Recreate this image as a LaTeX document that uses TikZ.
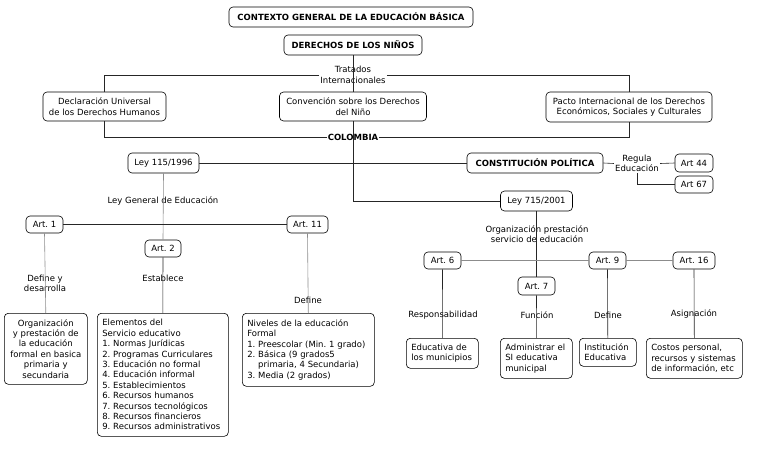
\documentclass[tikz,border=0pt]{standalone}
\usepackage{fontspec}
\setmainfont{DejaVu Sans}
\begin{document}
\frenchspacing
\begin{tikzpicture}[x=1pt,y=-1pt,
  box/.style={draw=black, rounded corners=4pt, line width=0.6pt, inner sep=2pt, font=\fontsize{8.5}{10.4}\selectfont, align=center},
  bbox/.style={box, font=\fontsize{8.5}{10.4}\selectfont\bfseries},
  tbox/.style={box, anchor=north west, inner xsep=5pt, align=left},
  lbl/.style={inner sep=1pt, font=\fontsize{8.5}{10.4}\selectfont, align=center},
  blbl/.style={lbl, font=\fontsize{8.5}{10.4}\selectfont\bfseries},
  ln/.style={draw=black!85, line width=0.6pt},
  gln/.style={draw=black!45, line width=0.6pt}]
\useasboundingbox (0,0) rectangle (767,460);
% top
\node[bbox, minimum width=244pt, minimum height=20pt] (title) at (351,17) {CONTEXTO GENERAL DE LA EDUCACIÓN BÁSICA};
\node[bbox, minimum width=138pt, minimum height=20pt] (der) at (353,45) {DERECHOS DE LOS NIÑOS};
\node[box, minimum width=123pt, minimum height=29pt] (decl) at (104.5,106.5) {Declaración Universal\\de los Derechos Humanos};
\node[box, minimum width=147pt, minimum height=29pt] (conv) at (353,106.5) {Convención sobre los Derechos\\del Niño};
\node[box, minimum width=166pt, minimum height=30pt] (pacto) at (629,107) {Pacto Internacional de los Derechos\\Económicos, Sociales y Culturales};
\node[lbl] (trat) at (353,75) {Tratados\\Internacionales};
\node[blbl] (col) at (353,137) {COLOMBIA};
% middle
\node[box, minimum width=71pt, minimum height=20pt] (ley115) at (163.5,163) {Ley 115/1996};
\node[bbox, minimum width=136pt, minimum height=20pt] (const) at (535,163) {CONSTITUCIÓN POLÍTICA};
\node[lbl] (reg) at (637,163.5) {Regula\\Educación};
\node[box, minimum width=38pt, minimum height=18pt] (a44) at (694,163) {Art 44};
\node[box, minimum width=38pt, minimum height=17pt] (a67) at (694,184.5) {Art 67};
\node[box, minimum width=72pt, minimum height=20pt] (ley715) at (536.5,201) {Ley 715/2001};
\node[lbl] (leygen) at (163,201) {Ley General de Educación};
\node[box, minimum width=37pt, minimum height=17pt] (a1) at (44.5,224.5) {Art. 1};
\node[box, minimum width=36pt, minimum height=17pt] (a2) at (163,248.5) {Art. 2};
\node[box, minimum width=41pt, minimum height=17pt] (a11) at (307.5,224.5) {Art. 11};
\node[lbl] (org) at (537,234) {Organización prestación\\servicio de educación};
\node[box, minimum width=37pt, minimum height=17pt] (a6) at (442.5,260.5) {Art. 6};
\node[box, minimum width=37pt, minimum height=18pt] (a7) at (536.5,286) {Art. 7};
\node[box, minimum width=37pt, minimum height=17pt] (a9) at (607.5,260.5) {Art. 9};
\node[box, minimum width=42pt, minimum height=17pt] (a16) at (694,260.5) {Art. 16};
% edge labels
\node[lbl] (defy) at (45,283.5) {Define y\\desarrolla};
\node[lbl] (estab) at (163,278) {Establece};
\node[lbl] (def1) at (308,300) {Define};
\node[lbl] (resp) at (443,315) {Responsabilidad};
\node[lbl] (func) at (537,315) {Función};
\node[lbl] (def2) at (608,315) {Define};
\node[lbl] (asig) at (694,314) {Asignación};
% bottom boxes
\node[box, anchor=north west, text width=79pt, minimum height=71pt] (orgb) at (4,313) {Organización\\y prestación de\\la educación\\formal en basica\\primaria y\\secundaria};
\node[tbox, text width=121pt, minimum height=123pt] (elem) at (97,313) {Elementos del\\Servicio educativo\\1. Normas Jurídicas\\2. Programas Curriculares\\3. Educación no formal\\4. Educación informal\\5. Establecimientos\\6. Recursos humanos\\7. Recursos tecnológicos\\8. Recursos financieros\\9. Recursos administrativos};
\node[tbox, text width=122pt, minimum height=73pt] (niv) at (242,313) {Niveles de la educación\\Formal\\1. Preescolar (Min. 1 grado)\\2. Básica (9 grados5\\\hphantom{2. }primaria, 4 Secundaria)\\3. Media (2 grados)};
\node[tbox, text width=62pt, minimum height=30pt] (educ) at (406,338) {Educativa de\\los municipios};
\node[tbox, text width=62pt, minimum height=40pt] (adm) at (500,338) {Administrar el\\SI educativa\\municipal};
\node[tbox, text width=47pt, minimum height=28pt] (inst) at (579,338) {Institución\\Educativa};
\node[tbox, text width=86pt, minimum height=40pt] (cost) at (646,338) {Costos personal,\\recursos y sistemas\\de información, etc};
% connectors
\draw[ln] (der.south) -- (conv.north);
\draw[ln] (trat.west) -| (decl.north);
\draw[ln] (trat.east) -| (pacto.north);
\draw[ln] (decl.south) |- (col.west);
\draw[ln] (col.east) -| (pacto.south);
\draw[ln] (conv.south) |- (ley715.west);
\draw[ln] (ley115.east) -- (const.west);
\draw[ln] (const.east) -- (reg.west);
\draw[ln] (reg.east) -- (a44.west);
\draw[ln] (reg.south) |- (a67.west);
\draw[gln] (ley115.south) -- (a2.north);
\draw[ln] (a1.east) -- (a11.west);
\draw[gln] (a1.south) -- (orgb.north);
\draw[ln] (a2.south) -- (elem.north);
\draw[gln] (a11.south) -- (niv.north);
\draw[ln] (ley715.south) -- (a7.north);
\draw[gln] (a6.east) -- (a9.west);
\draw[gln] (a9.east) -- (a16.west);
\draw[ln] (a6.south) -- (educ.north);
\draw[ln] (a7.south) -- (adm.north);
\draw[ln] (a9.south) -- (inst.north);
\draw[ln] (a16.south) -- (cost.north);
\end{tikzpicture}
\end{document}
